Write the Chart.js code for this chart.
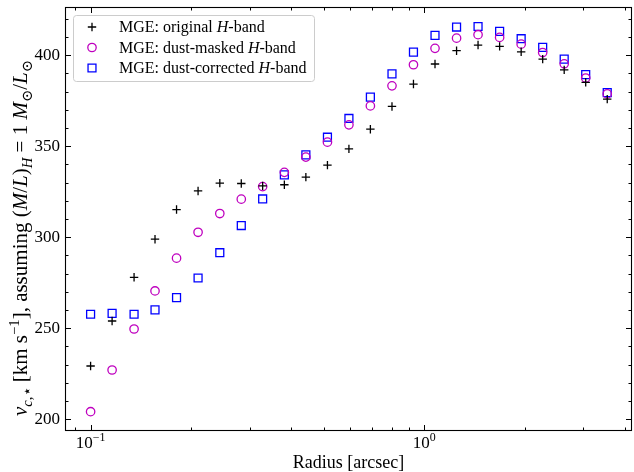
<!DOCTYPE html>
<html>
<head>
<meta charset="utf-8">
<script src="https://cdn.jsdelivr.net/npm/chart.js@4.4.1/dist/chart.umd.min.js"></script>
<style>
  html, body { margin: 0; padding: 0; background: #fff; }
  canvas { display: block; }
</style>
</head>
<body>
<canvas id="chart" width="634" height="472"></canvas>
<script>
// Radios de las MGE (arcsec)
const radius = [0.100, 0.116, 0.135, 0.156, 0.181, 0.210, 0.244, 0.283, 0.328, 0.381, 0.442, 0.513, 0.595,
                0.690, 0.801, 0.929, 1.078, 1.251, 1.451, 1.684, 1.954, 2.267, 2.630, 3.051, 3.540];

// Velocidad circular (km/s) para cada modelo
const vOriginal = [229.3, 254.0, 278.0, 298.9, 315.2, 325.4, 329.7, 329.5, 328.2, 328.8, 333.0, 339.6, 348.5,
                   359.3, 371.8, 384.1, 395.1, 402.4, 405.5, 404.8, 401.8, 397.8, 391.9, 385.0, 375.8];
const vMasked = [204.2, 227.1, 249.6, 270.5, 288.5, 302.7, 313.0, 320.9, 327.8, 335.6, 344.0, 352.2, 361.7,
                 372.1, 383.1, 394.7, 403.7, 409.3, 411.2, 409.7, 406.0, 401.4, 395.2, 387.4, 378.7];
const vCorrected = [257.7, 258.2, 257.7, 260.1, 266.8, 277.6, 291.5, 306.4, 321.0, 334.2, 345.2, 354.9, 365.2,
                    376.9, 389.7, 401.6, 410.8, 415.4, 415.7, 413.0, 409.0, 404.2, 397.8, 389.3, 379.4];

// Marcas de los ejes
const xTicks = [0.09, 0.1, 0.2, 0.3, 0.4, 0.5, 0.6, 0.7, 0.8, 0.9, 1, 2, 3, 4];
const xLabelValues = [0.1, 1];
const xLabelExps = ['\u22121', '0'];
const yTicks = [200, 210, 220, 230, 240, 250, 260, 270, 280, 290, 300, 310, 320,
                330, 340, 350, 360, 370, 380, 390, 400, 410, 420];
const yLabelValues = [200, 250, 300, 350, 400];

const serif = '"Liberation Serif", "DejaVu Serif", serif';

function fuente(seg, size) {
  const s = (seg.sub || seg.sup) ? size * 0.7 : size;
  return (seg.it ? 'italic ' : '') + s + 'px ' + serif;
}

// Dibuja texto con cursivas, subíndices y superíndices; align 'center' o 'left'
function textoRico(ctx, segs, x, y, size, align) {
  let total = 0;
  const anchos = segs.map(seg => {
    ctx.font = fuente(seg, size);
    const w = ctx.measureText(seg.t).width;
    total += w;
    return w;
  });
  let cx = align === 'center' ? x - total / 2 : x;
  ctx.textAlign = 'left';
  ctx.textBaseline = 'alphabetic';
  segs.forEach((seg, i) => {
    ctx.font = fuente(seg, size);
    const dy = seg.sub ? size * 0.24 : seg.sup ? -size * 0.4 : 0;
    ctx.fillText(seg.t, cx, y + dy);
    cx += anchos[i];
  });
}

const tituloY = [
  {t: 'v', it: true}, {t: 'c', it: true, sub: true}, {t: ',\u22c6', sub: true},
  {t: ' [km s'}, {t: '\u22121', sup: true}, {t: '], assuming ('},
  {t: 'M', it: true}, {t: '/'}, {t: 'L', it: true}, {t: ')'}, {t: 'H', it: true, sub: true},
  {t: ' = 1 '}, {t: 'M', it: true}, {t: '\u2299', sub: true}, {t: '/'},
  {t: 'L', it: true}, {t: '\u2299', sub: true}
];

const leyenda = [
  {ds: 0, segs: [{t: 'MGE: original '}, {t: 'H', it: true}, {t: '-band'}]},
  {ds: 1, segs: [{t: 'MGE: dust-masked '}, {t: 'H', it: true}, {t: '-band'}]},
  {ds: 2, segs: [{t: 'MGE: dust-corrected '}, {t: 'H', it: true}, {t: '-band'}]}
];

// Marco, marcas hacia dentro, etiquetas del eje x, títulos y leyenda
const ejesPlugin = {
  id: 'ejes',
  afterDatasetsDraw(chart) {
    const {ctx, chartArea: a, scales: {x, y}} = chart;
    ctx.save();
    ctx.strokeStyle = '#000';
    ctx.lineWidth = 1;
    ctx.beginPath();
    x.ticks.forEach(t => {
      const px = Math.round(x.getPixelForValue(t.value)) + 0.5;
      const len = xLabelValues.includes(t.value) ? 6 : 3.5;
      ctx.moveTo(px, a.bottom); ctx.lineTo(px, a.bottom - len);
      ctx.moveTo(px, a.top); ctx.lineTo(px, a.top + len);
    });
    y.ticks.forEach(t => {
      const py = Math.round(y.getPixelForValue(t.value)) + 0.5;
      const len = yLabelValues.includes(t.value) ? 6 : 3.5;
      ctx.moveTo(a.left, py); ctx.lineTo(a.left + len, py);
      ctx.moveTo(a.right, py); ctx.lineTo(a.right - len, py);
    });
    ctx.stroke();
    ctx.lineWidth = 1.1;
    ctx.strokeRect(a.left + 0.5, a.top + 0.5, a.right - a.left - 1, a.bottom - a.top - 1);

    // etiquetas 10^n del eje logarítmico
    ctx.fillStyle = '#000';
    xLabelValues.forEach((v, i) => {
      const px = x.getPixelForValue(v);
      textoRico(ctx, [{t: '10'}, {t: xLabelExps[i], sup: true}], px, 448, 17, 'center');
    });

    textoRico(ctx, [{t: 'Radius [arcsec]'}], (a.left + a.right) / 2, 468, 18, 'center');

    // título vertical, empieza justo encima de la etiqueta 200
    ctx.save();
    ctx.translate(27, 416);
    ctx.rotate(-Math.PI / 2);
    textoRico(ctx, tituloY, 0, 0, 21, 'left');
    ctx.restore();

    // leyenda
    const lx = a.left + 8, ly = a.top + 8, lw = 241, lh = 66;
    ctx.beginPath();
    ctx.roundRect(lx + 0.5, ly + 0.5, lw, lh, 3);
    ctx.fillStyle = 'rgba(255,255,255,0.8)';
    ctx.fill();
    ctx.strokeStyle = '#cccccc';
    ctx.lineWidth = 1;
    ctx.stroke();
    leyenda.forEach((item, i) => {
      const ds = chart.data.datasets[item.ds];
      const cy = ly + 12 + i * 20.5;
      ctx.strokeStyle = ds.borderColor;
      ctx.fillStyle = 'rgba(0,0,0,0)';
      ctx.lineWidth = ds.borderWidth;
      Chart.helpers.drawPoint(ctx, {pointStyle: ds.pointStyle, radius: ds.pointRadius, rotation: 0,
                                    borderWidth: ds.borderWidth}, lx + 19, cy);
      ctx.fillStyle = '#000';
      textoRico(ctx, item.segs, lx + 46, cy + 5, 16, 'left');
    });
    ctx.restore();
  }
};

function puntos(valores) {
  return radius.map((r, i) => ({x: r, y: valores[i]}));
}

// sin relleno extra alrededor de las escalas
function sinRelleno(scale) {
  scale.paddingTop = 0;
  scale.paddingBottom = 0;
  scale.paddingLeft = 0;
  scale.paddingRight = 0;
}

const ctx = document.getElementById('chart').getContext('2d');
const myChart = new Chart(ctx, {
  type: 'scatter',
  data: {
    datasets: [{
      label: 'MGE: original H-band',
      data: puntos(vOriginal),
      pointStyle: 'cross',
      pointRadius: 4.2,
      borderColor: '#000000',
      backgroundColor: 'rgba(0,0,0,0)',
      borderWidth: 1.3
    }, {
      label: 'MGE: dust-masked H-band',
      data: puntos(vMasked),
      pointStyle: 'circle',
      pointRadius: 4.2,
      borderColor: '#bf00bf',
      backgroundColor: 'rgba(0,0,0,0)',
      borderWidth: 1.3
    }, {
      label: 'MGE: dust-corrected H-band',
      data: puntos(vCorrected),
      pointStyle: 'rect',
      pointRadius: 5.6,
      borderColor: '#0000ff',
      backgroundColor: 'rgba(0,0,0,0)',
      borderWidth: 1.3
    }]
  },
  options: {
    responsive: false,
    animation: false,
    events: [],
    layout: { autoPadding: false, padding: { top: 7, right: 2, left: 0, bottom: 0 } },
    plugins: { legend: { display: false }, tooltip: { enabled: false } },
    scales: {
      x: {
        type: 'logarithmic',
        min: 0.0838,
        max: 4.2,
        grid: { display: false, drawTicks: false },
        border: { display: false },
        ticks: { display: false },
        afterBuildTicks: scale => { scale.ticks = xTicks.map(v => ({value: v})); },
        afterFit: scale => { scale.height = 41; sinRelleno(scale); }
      },
      y: {
        type: 'linear',
        min: 193.6,
        max: 426.4,
        grid: { display: false, drawTicks: false },
        border: { display: false },
        ticks: {
          autoSkip: false,
          padding: 5,
          color: '#000',
          font: { family: serif, size: 17 },
          callback: v => yLabelValues.includes(v) ? String(v) : ''
        },
        afterBuildTicks: scale => { scale.ticks = yTicks.map(v => ({value: v})); },
        afterFit: scale => { scale.width = 65; sinRelleno(scale); }
      }
    }
  },
  plugins: [ejesPlugin]
});
</script>
</body>
</html>
